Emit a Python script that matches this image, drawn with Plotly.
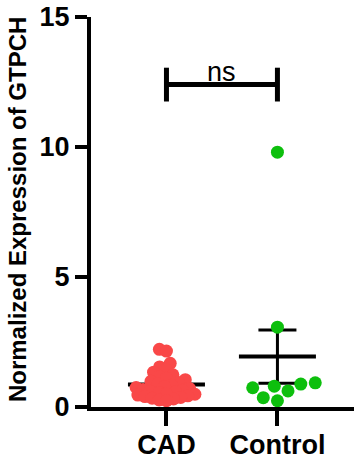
import numpy as np
import plotly.graph_objects as go

# ---------------- data ----------------
categories = ["CAD", "Control"]
cad_values = [2.22, 2.15, 1.68, 1.54, 1.44, 1.34, 1.24, 1.17, 1.11, 1.05, 0.99,
              0.94, 0.89, 0.84, 0.79, 0.75, 0.71, 0.67, 0.64, 0.61, 0.58, 0.55,
              0.52, 0.49, 0.46, 0.43, 0.40, 0.37, 0.34, 0.31, 0.27, 0.24]
control_values = [9.8, 3.07, 0.93, 0.88, 0.80, 0.74, 0.62, 0.36, 0.24]
y_tick_values = [0, 5, 10, 15]
y_title = "Normalized Expression of GTPCH"
significance_label = "ns"

# ---------------- layout constants ----------------
W, H = 356, 466
ML, MR, MT, MB = 91, 2, 15, 59
X_RANGE = [-0.68, 1.69]
Y_RANGE = [0, 15]
PX_X = (W - ML - MR) / (X_RANGE[1] - X_RANGE[0])
PX_Y = (H - MT - MB) / (Y_RANGE[1] - Y_RANGE[0])
MARKER = 13
SPACINGS = [7.3, 14.5]
COLORS = ["#F94848", "#0DBF0D"]
FONT = "Liberation Sans, Arial, sans-serif"
BRACKET_Y = 12.4
BRACKET_TICK = 0.65


def beeswarm(values, spacing):
    """Place points side by side (pixel space), closest to the centre."""
    order = np.argsort(values)
    ys = np.asarray(values, float) * PX_Y
    xs = np.zeros(len(values))
    placed = []
    for i in order:
        forbidden = []
        for j in placed:
            dy = abs(ys[i] - ys[j])
            if dy < spacing:
                dx = np.sqrt(spacing ** 2 - dy ** 2)
                forbidden.append((xs[j] - dx, xs[j] + dx))
        cands = [0.0] + [a for a, b in forbidden] + [b for a, b in forbidden]
        cands.sort(key=abs)
        for c in cands:
            if all(not (a + 1e-6 < c < b - 1e-6) for a, b in forbidden):
                xs[i] = c
                break
        placed.append(i)
    return xs / PX_X


fig = go.Figure()
groups = [cad_values, control_values]

# mean line + SEM error bars (drawn underneath the points)
for k, vals in enumerate(groups):
    arr = np.asarray(vals, float)
    mean = arr.mean()
    sem = arr.std(ddof=1) / np.sqrt(len(arr))
    fig.add_trace(go.Scatter(
        x=[k], y=[mean], mode="markers",
        marker=dict(symbol="line-ew", size=55, color="black",
                    line=dict(color="black", width=4)),
        error_y=dict(type="data", array=[sem], symmetric=True,
                     color="black", thickness=3, width=19),
        showlegend=False, hoverinfo="skip"))

# points
for k, vals in enumerate(groups):
    offs = beeswarm(vals, SPACINGS[k])
    fig.add_trace(go.Scatter(
        x=k + offs, y=vals, mode="markers",
        marker=dict(size=MARKER, color=COLORS[k], line=dict(width=0)),
        showlegend=False, name=categories[k]))

# significance bracket
line = dict(color="black", width=5)
fig.add_shape(type="line", x0=0, x1=1, y0=BRACKET_Y, y1=BRACKET_Y, line=line)
for k in (0, 1):
    fig.add_shape(type="line", x0=k, x1=k, y0=BRACKET_Y - BRACKET_TICK,
                  y1=BRACKET_Y + BRACKET_TICK, line=line)
fig.add_annotation(x=0.5, y=BRACKET_Y, text=significance_label, showarrow=False,
                   yanchor="bottom", yshift=-4,
                   font=dict(family=FONT, size=27, color="black"))

# y-axis title
fig.add_annotation(x=-74 / (W - ML - MR), xref="paper", y=0.505, yref="paper",
                   text="<b>%s</b>" % y_title, textangle=-90, showarrow=False,
                   xanchor="center", yanchor="middle",
                   font=dict(family=FONT, size=24, color="black"))

fig.update_layout(
    width=W, height=H,
    margin=dict(l=ML, r=MR, t=MT, b=MB, pad=0),
    plot_bgcolor="white", paper_bgcolor="white",
    xaxis=dict(range=X_RANGE, tickvals=[0, 1],
               ticktext=["<b>%s</b>" % c for c in categories],
               showgrid=False, zeroline=False, showline=True,
               linecolor="black", linewidth=4,
               ticks="outside", ticklen=15, tickwidth=4, tickcolor="black",
               ticklabelstandoff=-4,
               tickfont=dict(family=FONT, size=27, color="black")),
    yaxis=dict(range=Y_RANGE, tickvals=y_tick_values,
               ticktext=["<b>%d</b>" % v for v in y_tick_values],
               showgrid=False, zeroline=False, showline=True,
               linecolor="black", linewidth=4,
               ticks="outside", ticklen=12, tickwidth=4, tickcolor="black",
               tickfont=dict(family=FONT, size=27, color="black")),
)

fig.write_html("out.html", config={"displayModeBar": False},
               post_script="document.body.style.margin='0';document.body.style.padding='0';")
